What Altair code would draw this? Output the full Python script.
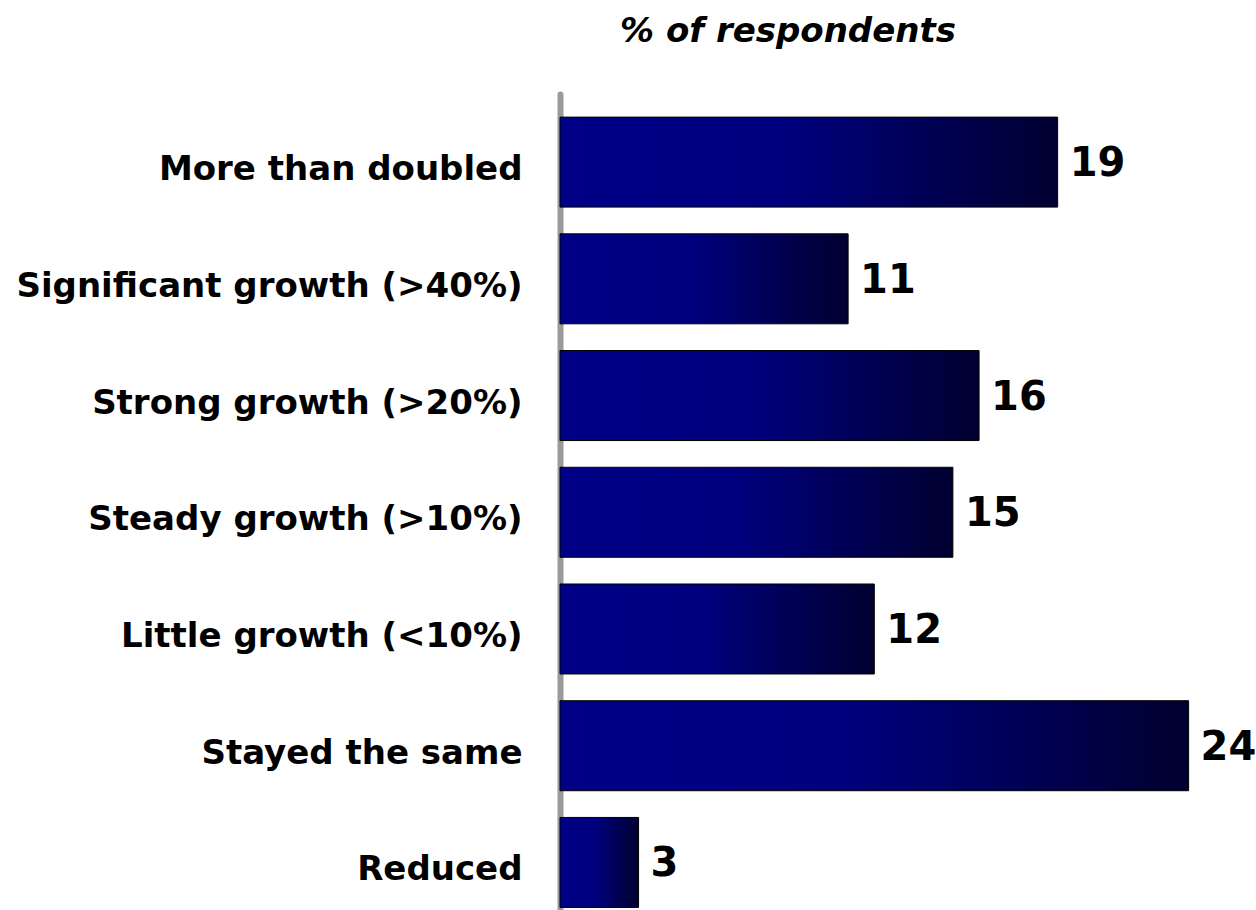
import altair as alt
import pandas as pd

categories = [
    "More than doubled",
    "Significant growth (>40%)",
    "Strong growth (>20%)",
    "Steady growth (>10%)",
    "Little growth (<10%)",
    "Stayed the same",
    "Reduced",
]
values = [19, 11, 16, 15, 12, 24, 3]
title_text = "% of respondents"

df = pd.DataFrame({"category": categories, "value": values})

FONT = "DejaVu Sans"

gradient = alt.Gradient(
    gradient="linear",
    x1=0, x2=1, y1=0, y2=0,
    stops=[
        alt.GradientStop(color="#000088", offset=0),
        alt.GradientStop(color="#00007e", offset=0.45),
        alt.GradientStop(color="#000030", offset=1),
    ],
)

y_enc = alt.Y(
    "category:N",
    sort=categories,
    scale=alt.Scale(paddingInner=0.229, paddingOuter=0.11, align=0.9),
    axis=alt.Axis(
        title=None,
        ticks=False,
        domain=True,
        domainColor="#9a9a9a",
        domainWidth=6,
        domainCap="round",
        labelFont=FONT,
        labelFontWeight="bold",
        labelFontSize=34,
        labelColor="#000000",
        labelPadding=38,
        labelLimit=600,
        labelOffset=8,
        grid=False,
    ),
)
x_enc = alt.X(
    "value:Q",
    scale=alt.Scale(domain=[0, 26], nice=False, zero=True),
    axis=None,
)

bars = alt.Chart(df).mark_bar(
    fill=gradient, stroke="#000000", strokeWidth=1
).encode(y=y_enc, x=x_enc)

labels = alt.Chart(df).mark_text(
    align="left", baseline="middle", dx=12, dy=2,
    font=FONT, fontWeight="bold", fontSize=40, color="#000000"
).encode(
    y=alt.Y("category:N", sort=categories),
    x=alt.X("value:Q", axis=None),
    text=alt.Text("value:Q"),
)

chart = (
    alt.layer(bars, labels)
    .properties(
        width=681,
        height=816,
        background="#ffffff",
        title=alt.TitleParams(
            text=title_text,
            anchor="start",
            frame="group",
            dx=60,
            offset=45,
            font=FONT,
            fontSize=34,
            fontWeight="bold",
            fontStyle="italic",
            color="#000000",
        ),
        autosize=alt.AutoSizeParams(type="none"),
        padding={"left": 560, "top": 94, "right": 15, "bottom": 0},
    )
    .configure_view(strokeWidth=0)
)

chart.save("out.html", embed_options={"renderer": "svg", "actions": False})
